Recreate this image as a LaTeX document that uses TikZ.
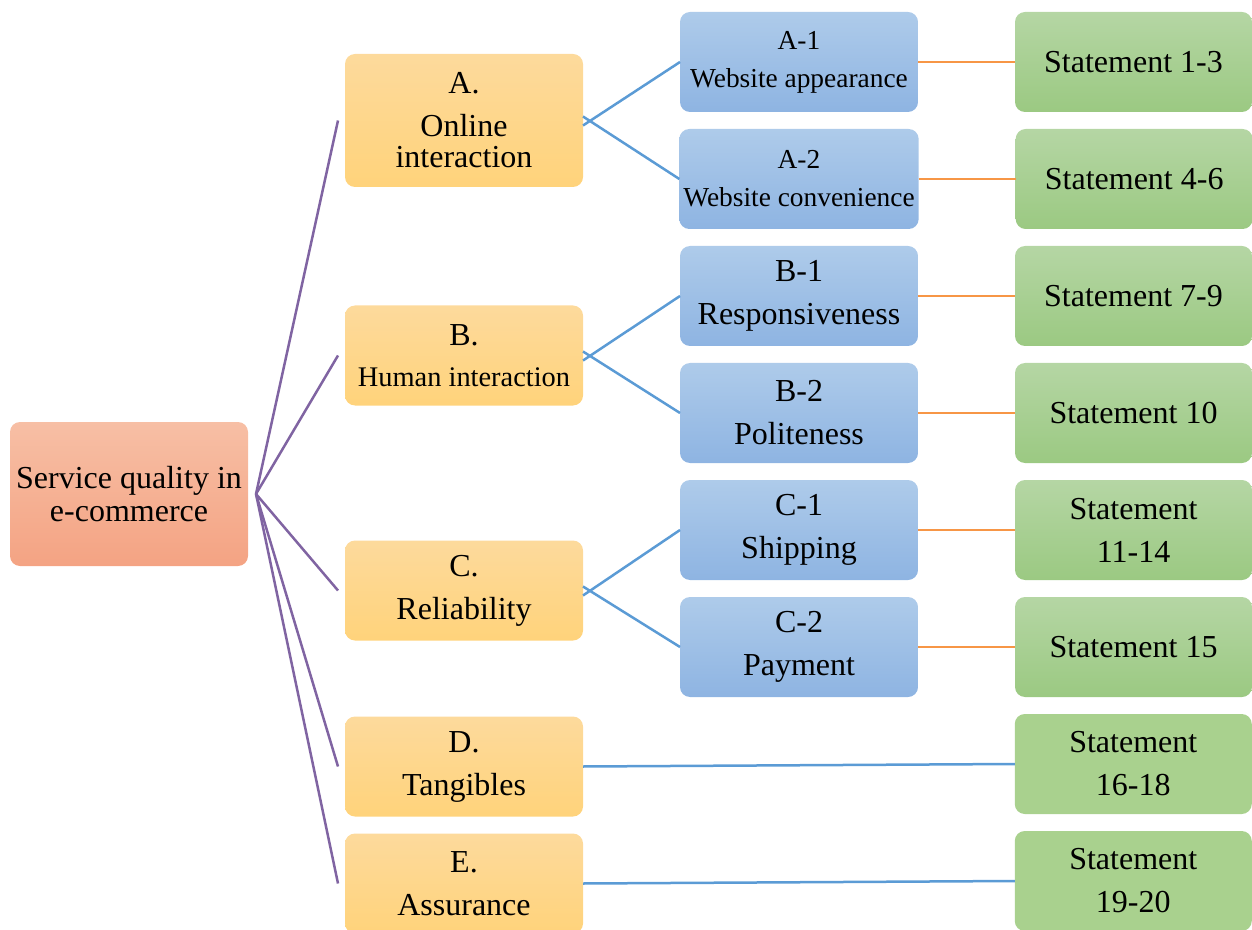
\documentclass[tikz,border=0pt]{standalone}
\usepackage{fontspec}
\setmainfont{Liberation Serif}
\usepackage{tikz}
\usetikzlibrary{positioning}

\definecolor{rootTop}{HTML}{F7BFA5}
\definecolor{rootBot}{HTML}{F4A383}
\definecolor{dimTop}{HTML}{FDDA9C}
\definecolor{dimBot}{HTML}{FFD37B}
\definecolor{subTop}{HTML}{AECBEA}
\definecolor{subBot}{HTML}{8EB4E2}
\definecolor{stmtTop}{HTML}{B5D6A4}
\definecolor{stmtBot}{HTML}{9BC982}
\definecolor{stmtFlat}{HTML}{A9D18E}
\definecolor{linkPurple}{HTML}{8064A2}
\definecolor{linkBlue}{HTML}{5B9BD5}
\definecolor{linkOrange}{HTML}{F79646}

\begin{document}
\begin{tikzpicture}[
    x=0.5pt, y=-0.5pt,
    node distance=8.5pt and 48.5pt,
    box/.style={rectangle, rounded corners=5pt, outer sep=0pt, inner sep=2pt,
                align=center, minimum width=119pt, minimum height=50pt,
                font=\fontsize{16}{21.5}\selectfont},
    rootbox/.style={box, top color=rootTop, bottom color=rootBot,
                    minimum height=72pt, font=\fontsize{16}{16.5}\selectfont},
    dimbox/.style={box, top color=dimTop, bottom color=dimBot},
    subbox/.style={box, top color=subTop, bottom color=subBot},
    stmtbox/.style={box, top color=stmtTop, bottom color=stmtBot,
                    minimum width=118.5pt},
    stmtflat/.style={box, fill=stmtFlat, minimum width=118.5pt},
    small/.style={font=\fontsize{13.7}{19}\selectfont},
    link/.style={draw=linkPurple, line width=1.25pt},
    sublink/.style={draw=linkBlue, line width=1.25pt},
    stmtlink/.style={draw=linkOrange, line width=1.25pt}
]
    \useasboundingbox (0,0) rectangle (1252,930);

    % root and dimensions
    \node[rootbox] (root) at (129,494) {Service quality in\\e-commerce};
    \node[dimbox, minimum height=66.5pt] (dimA) at (464,120.5)
          {A.\\Online\\[-6pt]interaction};
    \node[dimbox] (dimB) at (464,355.5)
          {B.\\[-1pt]{\fontsize{14.2}{19}\selectfont Human interaction}};
    \node[dimbox] (dimC) at (464,590.5) {C.\\Reliability};
    \node[dimbox] (dimD) at (464,766.5) {D.\\Tangibles};
    \node[dimbox] (dimE) at (464,883.5) {E.\\Assurance};

    % sub-dimensions
    \node[subbox, small] (subA1) at (799,62) {A-1\\Website appearance};
    \node[subbox, small, below=of subA1] (subA2) {A-2\\Website convenience};
    \node[subbox, below=of subA2] (subB1) {B-1\\Responsiveness};
    \node[subbox, below=of subB1] (subB2) {B-2\\Politeness};
    \node[subbox, below=of subB2] (subC1) {C-1\\Shipping};
    \node[subbox, below=of subC1] (subC2) {C-2\\Payment};

    % statements
    \node[stmtbox, right=of subA1] (stA1) {Statement 1-3};
    \node[stmtbox, right=of subA2] (stA2) {Statement 4-6};
    \node[stmtbox, right=of subB1] (stB1) {Statement 7-9};
    \node[stmtbox, right=of subB2] (stB2) {Statement 10};
    \node[stmtbox, right=of subC1] (stC1) {Statement\\11-14};
    \node[stmtbox, right=of subC2] (stC2) {Statement 15};
    \node[stmtflat] (stD) at (1133.25,764) {Statement\\16-18};
    \node[stmtflat, below=of stD] (stE) {Statement\\19-20};

    % connectors
    \foreach \d in {A,B,C,D,E}
        \draw[link] ([xshift=4pt]root.east) -- ([xshift=-3.5pt]dim\d.west);
    \foreach \d in {A,B,C} {
        \draw[sublink] ([yshift=-2.5pt]dim\d.east) -- (sub\d1.west);
        \draw[sublink] ([yshift=2pt]dim\d.east) -- (sub\d2.west);
    }
    \foreach \s in {A1,A2,B1,B2,C1,C2}
        \draw[stmtlink] (sub\s.east) -- (st\s.west);
    \draw[sublink] (dimD.east) -- (stD.west);
    \draw[sublink] (dimE.east) -- (stE.west);
\end{tikzpicture}
\end{document}
